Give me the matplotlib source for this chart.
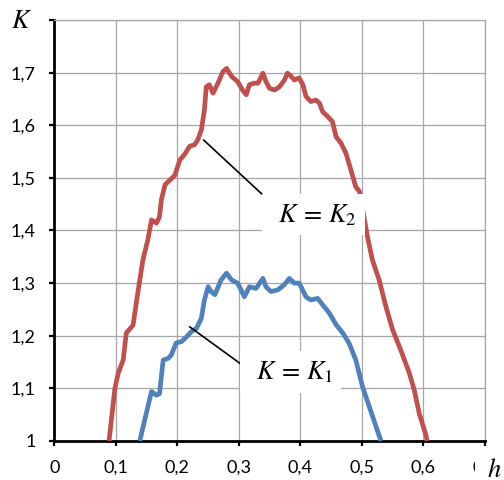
import matplotlib
matplotlib.use('Agg')
import matplotlib.pyplot as plt

plt.rcParams['mathtext.fontset'] = 'stix'
plt.rcParams['font.family'] = ['Lato', 'DejaVu Sans']

# K = K2 curve (red)
h2 = [0.089, 0.0985, 0.104, 0.112, 0.117, 0.128, 0.134, 0.139, 0.144, 0.152, 0.158,
      0.166, 0.171, 0.174, 0.18, 0.188, 0.196, 0.204, 0.212, 0.22, 0.228, 0.233, 0.239,
      0.244, 0.247, 0.252, 0.258, 0.266, 0.274, 0.28, 0.288, 0.298, 0.306, 0.312,
      0.317, 0.325, 0.331, 0.339, 0.344, 0.35, 0.358, 0.366, 0.374, 0.379, 0.385,
      0.39, 0.398, 0.404, 0.409, 0.417, 0.425, 0.431, 0.436, 0.444, 0.452, 0.458,
      0.466, 0.474, 0.482, 0.49, 0.496, 0.509, 0.517, 0.528, 0.539, 0.55, 0.563,
      0.577, 0.585, 0.593, 0.604, 0.606]
k2 = [1.0, 1.10, 1.129, 1.154, 1.205, 1.22, 1.268, 1.306, 1.344, 1.382, 1.42,
      1.414, 1.426, 1.458, 1.487, 1.496, 1.505, 1.534, 1.545, 1.56, 1.563, 1.572, 1.591,
      1.629, 1.673, 1.677, 1.661, 1.68, 1.702, 1.708, 1.693, 1.683, 1.667, 1.658,
      1.677, 1.68, 1.68, 1.699, 1.683, 1.67, 1.667, 1.673, 1.686, 1.699, 1.693,
      1.686, 1.69, 1.677, 1.655, 1.645, 1.648, 1.642, 1.626, 1.617, 1.607, 1.578,
      1.566, 1.547, 1.515, 1.483, 1.474, 1.388, 1.344, 1.306, 1.255, 1.211, 1.173,
      1.129, 1.097, 1.053, 1.011, 1.0]

# K = K1 curve (blue)
h1 = [0.139, 0.147, 0.158, 0.166, 0.171, 0.177, 0.185, 0.19, 0.198, 0.207, 0.215,
      0.223, 0.231, 0.239, 0.244, 0.25, 0.255, 0.261, 0.271, 0.28, 0.288, 0.298,
      0.309, 0.317, 0.328, 0.339, 0.344, 0.352, 0.363, 0.374, 0.382, 0.39, 0.398,
      0.409, 0.417, 0.428, 0.436, 0.447, 0.458, 0.469, 0.479, 0.49, 0.501, 0.512,
      0.523, 0.531]
k1 = [1.0, 1.04, 1.094, 1.087, 1.09, 1.154, 1.157, 1.163, 1.186, 1.189, 1.198,
      1.208, 1.214, 1.233, 1.268, 1.293, 1.284, 1.278, 1.306, 1.319, 1.306, 1.30,
      1.274, 1.293, 1.29, 1.309, 1.293, 1.284, 1.287, 1.297, 1.309, 1.30, 1.30,
      1.274, 1.268, 1.271, 1.259, 1.243, 1.221, 1.205, 1.186, 1.154, 1.103, 1.065,
      1.027, 1.0]

x_ticks = [0, 0.1, 0.2, 0.3, 0.4, 0.5, 0.6, 0.7]
x_labels = ['0', '0,1', '0,2', '0,3', '0,4', '0,5', '0,6', '0,7']
y_ticks = [1.0, 1.1, 1.2, 1.3, 1.4, 1.5, 1.6, 1.7, 1.8]
y_labels = ['1', '1,1', '1,2', '1,3', '1,4', '1,5', '1,6', '1,7', '']

red = '#C0504D'
blue = '#4F81BD'
grid_c = '#a6a6a6'

fig = plt.figure(figsize=(5.04, 4.8), dpi=100)
ax = fig.add_axes([0.1077, 0.0813, 0.8546, 0.877])

ax.plot(h2, k2, color=red, lw=3.4, clip_on=False, zorder=3, solid_capstyle='butt',
        solid_joinstyle='round')
ax.plot(h1, k1, color=blue, lw=3.4, clip_on=False, zorder=3, solid_capstyle='butt',
        solid_joinstyle='round')

ax.set_xlim(0, 0.7)
ax.set_ylim(1, 1.8)
ax.set_xticks(x_ticks)
ax.set_xticklabels(x_labels)
ax.set_yticks(y_ticks)
ax.set_yticklabels(y_labels)
ax.grid(True, color=grid_c, lw=0.9)
ax.set_axisbelow(True)

for s in ['top', 'right']:
    ax.spines[s].set_color(grid_c)
    ax.spines[s].set_linewidth(0.9)
for s in ['left', 'bottom']:
    ax.spines[s].set_linewidth(2)
ax.tick_params(direction='out', length=3.6, width=1.6, pad=10, labelsize=13)

# curve labels
box = dict(boxstyle='square,pad=0.3', fc='white', ec='none')
ax.annotate(r'$\;\,K\,=\,K_{\mathrm{2}}\;\,$', xy=(0.2427, 1.572), xytext=(0.4215, 1.43),
            ha='center', va='center', fontsize=19, bbox=box, zorder=5,
            arrowprops=dict(arrowstyle='-', color='black', lw=1.2,
                            relpos=(0, 1), shrinkA=0, shrinkB=0))
ax.annotate(r'$\;\,K\,=\,K_{\mathrm{1}}\;\,$', xy=(0.220, 1.217), xytext=(0.3846, 1.131),
            ha='center', va='center', fontsize=19, bbox=box, zorder=5,
            arrowprops=dict(arrowstyle='-', color='black', lw=1.2,
                            relpos=(0, 0.6), shrinkA=0, shrinkB=0))

# axis names
ax.text(-0.076, 1.0, r'$K$', transform=ax.transAxes, ha='center', va='center',
        fontsize=19)
fig.text(0.947, 0.021, r'$\;\;h$', ha='left', va='center', fontsize=19,
         bbox=dict(boxstyle='square,pad=0.1', fc='white', ec='none'))

fig.savefig('out.png', dpi=100)
